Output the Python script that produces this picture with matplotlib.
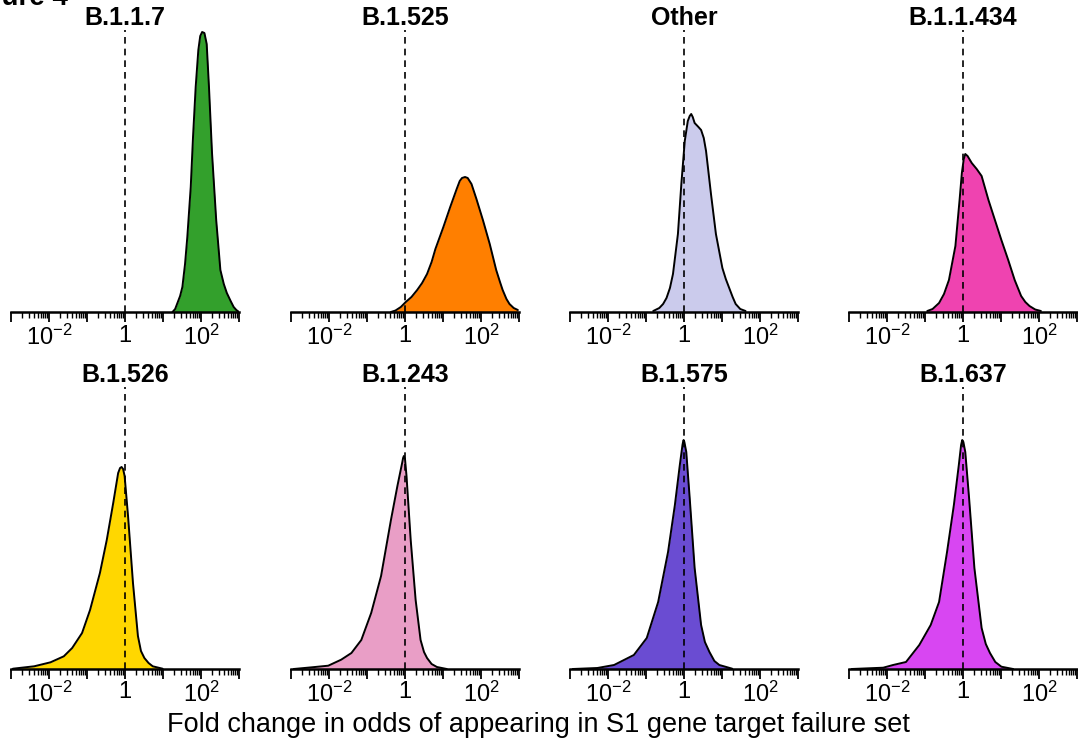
import numpy as np
import matplotlib
matplotlib.use("Agg")
import matplotlib.pyplot as plt
from matplotlib.ticker import FixedLocator, FixedFormatter, LogLocator, NullFormatter

plt.rcParams['font.family'] = ['Liberation Sans', 'DejaVu Sans']
plt.rcParams['mathtext.fontset'] = 'custom'
plt.rcParams['mathtext.rm'] = 'Liberation Sans'
plt.rcParams['mathtext.it'] = 'Liberation Sans:italic'
plt.rcParams['mathtext.bf'] = 'Liberation Sans:bold'

# lineages, panel order left-to-right, top-to-bottom
lineages = ["B.1.1.7", "B.1.525", "Other", "B.1.1.434",
            "B.1.526", "B.1.243", "B.1.575", "B.1.637"]
colors = ["#33A02C", "#FF7F00", "#CBCBEC", "#EF43B0",
          "#FFD700", "#E99EC6", "#6A4CD2", "#D846F2"]

# density estimates: log10(fold change) and height (arbitrary units)
b117_x = [1.25, 1.32, 1.38, 1.45, 1.51, 1.58, 1.64, 1.73, 1.79, 1.86, 1.93, 1.98, 2.03, 2.09, 2.15,
          2.21, 2.29, 2.40, 2.51, 2.60, 2.68, 2.78, 2.86, 2.93, 3.0]
b117_y = [0, 3, 9, 16, 25, 48, 75, 125, 175, 225, 262, 276, 280, 279, 268,
          225, 159, 92, 42, 28, 19, 11, 5, 2, 0]

b1525_x = [-0.37, -0.25, -0.11, 0.02, 0.17, 0.32, 0.45, 0.58, 0.70, 0.80, 1.01, 1.19, 1.36, 1.44,
           1.50, 1.58, 1.65, 1.75, 1.88, 2.05, 2.23, 2.40, 2.50, 2.57, 2.67, 2.75, 2.86, 2.97]
b1525_y = [0, 1.5, 5, 10, 15, 22, 29, 38, 50, 63, 85, 105, 123, 131,
           134, 135, 134, 128, 113, 92, 68, 42, 30, 22, 13, 8, 4, 2]

other_x = [-0.81, -0.65, -0.55, -0.46, -0.37, -0.29, -0.16, -0.07, 0.02, 0.10, 0.15, 0.19, 0.23,
           0.28, 0.38, 0.45, 0.52, 0.58, 0.71, 0.84, 1.01, 1.10, 1.19, 1.28, 1.36, 1.48, 1.62]
other_y = [1, 4, 8, 14, 24, 38, 78, 128, 171, 191, 196, 198, 195,
           189, 185, 182, 174, 161, 118, 78, 44, 33, 24, 15, 8, 3, 1]

b11434_x = [-0.94, -0.80, -0.63, -0.50, -0.37, -0.20, -0.09, -0.03, 0.02, 0.06, 0.12, 0.23, 0.36,
            0.49, 0.67, 0.84, 1.01, 1.19, 1.36, 1.53, 1.64, 1.75, 1.90, 2.05]
b11434_y = [1, 3, 9, 18, 32, 66, 112, 139, 153, 158, 156, 149, 143,
            136, 112, 92, 72, 52, 32, 16, 10, 6, 2.5, 1]

b1526_x = [-2.95, -2.39, -1.96, -1.61, -1.39, -1.13, -0.92, -0.66, -0.48, -0.31, -0.18, -0.13,
           -0.09, -0.05, -0.01, 0.08, 0.21, 0.34, 0.42, 0.51, 0.62, 0.73, 0.99]
b1526_y = [0.3, 2.7, 6.7, 12.7, 21, 36, 59, 96, 129, 166, 196, 201,
           202, 200, 193, 153, 86, 33, 18, 11, 6, 2.7, 0.3]

b1243_x = [-2.93, -2.45, -2.02, -1.68, -1.41, -1.15, -0.89, -0.63, -0.37, -0.20, -0.07, -0.05,
           -0.03, 0.00, 0.04, 0.15, 0.28, 0.41, 0.50, 0.58, 0.70, 0.84, 1.10]
b1243_y = [0, 1.7, 3.3, 9.3, 16, 29, 56, 93, 149, 183, 207, 211,
           213, 210, 193, 129, 69, 29, 17, 11, 5, 2, 0]

b1575_x = [-2.93, -2.28, -1.84, -1.32, -0.98, -0.68, -0.42, -0.24, -0.11, -0.04, -0.02, -0.01,
           0.01, 0.06, 0.15, 0.28, 0.45, 0.55, 0.67, 0.80, 0.93, 1.27]
b1575_y = [0, 1, 4, 14, 31, 67, 117, 164, 204, 224, 228, 229,
           227, 217, 171, 101, 44, 27, 17, 8, 4, 0.3]

b1637_x = [-2.93, -2.10, -1.84, -1.50, -1.15, -0.85, -0.63, -0.42, -0.24, -0.11, -0.05, -0.02,
           0.01, 0.06, 0.16, 0.30, 0.49, 0.60, 0.71, 0.85, 1.01, 1.32]
b1637_y = [0, 1.3, 4, 7, 24, 44, 67, 117, 164, 204, 224, 229,
           227, 217, 171, 101, 41, 25, 16, 7, 2.3, 0]

curves = [(b117_x, b117_y), (b1525_x, b1525_y), (other_x, other_y), (b11434_x, b11434_y),
          (b1526_x, b1526_y), (b1243_x, b1243_y), (b1575_x, b1575_y), (b1637_x, b1637_y)]

decades = [1e-3, 1e-2, 1e-1, 1, 1e1, 1e2, 1e3]
decade_labels = ["", "$10^{-2}$", "", "1", "", "$10^{2}$", ""]

W, H = 1078, 740
fig = plt.figure(figsize=(W / 100, H / 100), dpi=100)

lefts = [11, 291, 570, 849]
width = 228
bottoms = [312, 669]
height = 282

for i, (name, col, (lx, dy)) in enumerate(zip(lineages, colors, curves)):
    r, c = divmod(i, 4)
    ax = fig.add_axes([lefts[c] / W, 1 - bottoms[r] / H, width / W, height / H])
    fold = 10 ** np.array(lx)
    ax.fill_between(fold, 0, dy, color=col, linewidth=0, zorder=1)
    ax.plot(fold, dy, color="black", lw=1.4, zorder=2,
            solid_joinstyle="round", solid_capstyle="round")
    ax.axvline(1, color="black", lw=1.2, ls=(0, (4, 3)), zorder=3)

    ax.set_xscale("log")
    ax.set_xlim(1e-3, 1e3)
    ax.set_ylim(0, height)
    ax.xaxis.set_major_locator(FixedLocator(decades))
    ax.xaxis.set_major_formatter(FixedFormatter(decade_labels))
    ax.xaxis.set_minor_locator(LogLocator(base=10, subs=np.arange(2, 10), numticks=20))
    ax.xaxis.set_minor_formatter(NullFormatter())
    ax.tick_params(axis="x", which="major", length=7, width=1.3, direction="out",
                   labelsize=17, pad=2)
    ax.tick_params(axis="x", which="minor", length=4, width=1.0, direction="out")
    ax.set_yticks([])
    for s in ["left", "right", "top"]:
        ax.spines[s].set_visible(False)
    ax.spines["bottom"].set_linewidth(1.8)
    ax.set_title(name, fontsize=18, fontweight="bold", pad=2)

fig.text(68 / W, 1 - 5 / H, "Figure 4", fontsize=20, fontweight="bold",
         ha="right", va="baseline")
fig.text(538 / W, 1 - 725 / H, "Fold change in odds of appearing in S1 gene target failure set",
         fontsize=19.5, ha="center", va="center")

fig.savefig("out.png", dpi=100)
